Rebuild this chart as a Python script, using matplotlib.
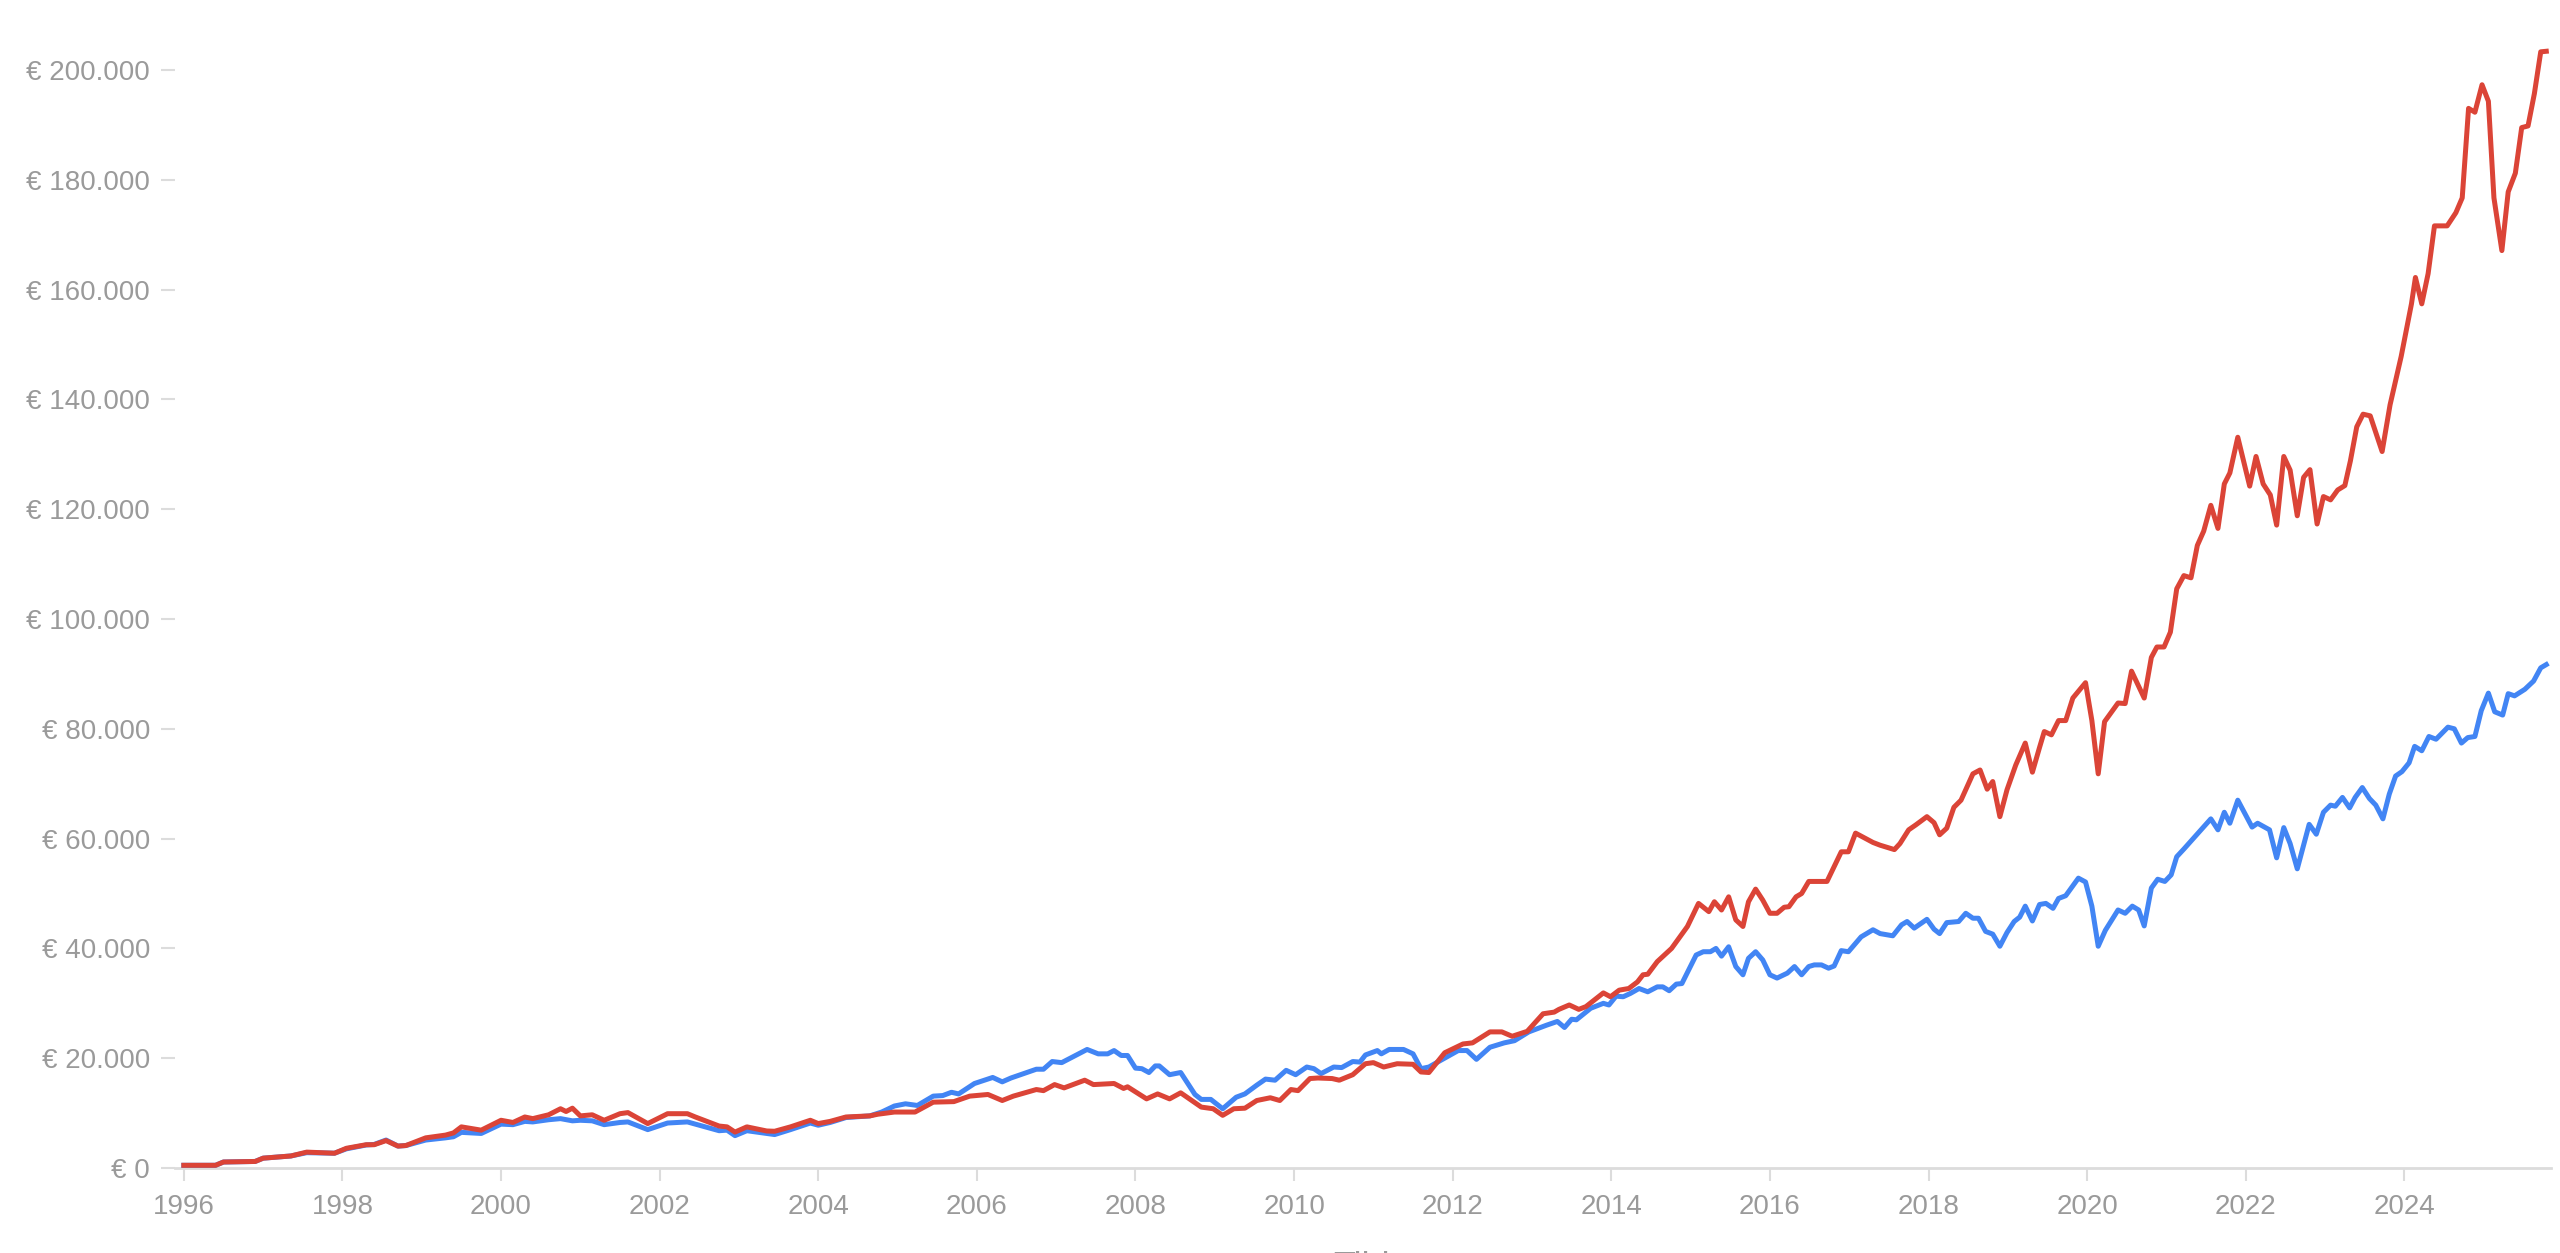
################################ REQUIRED PACKAGES ################################
import numpy as np
import matplotlib
matplotlib.use('Agg')
import matplotlib.pyplot as plt
from matplotlib.ticker import FuncFormatter, MultipleLocator


################################ DATA ################################
# red series (decimal year, value in euro)
red_years = [1996.0, 1996.4, 1996.5, 1996.9, 1997.0, 1997.35, 1997.55, 1997.9, 1998.05, 1998.3,
             1998.4, 1998.55, 1998.7, 1998.8, 1999.05, 1999.3, 1999.4, 1999.5, 1999.75, 2000.0,
             2000.15, 2000.3, 2000.4, 2000.6, 2000.75, 2000.82, 2000.9, 2001.0, 2001.15, 2001.3,
             2001.5, 2001.6, 2001.85, 2002.1, 2002.35, 2002.45, 2002.75, 2002.85, 2002.95, 2003.1,
             2003.35, 2003.45, 2003.65, 2003.9, 2004.0, 2004.15, 2004.35, 2004.65, 2004.75, 2004.96,
             2005.22, 2005.45, 2005.71, 2005.91, 2006.14, 2006.32, 2006.46, 2006.75, 2006.84, 2006.98,
             2007.1, 2007.36, 2007.47, 2007.73, 2007.85, 2007.9, 2008.14, 2008.28, 2008.43, 2008.57,
             2008.83, 2008.98, 2009.1, 2009.24, 2009.38, 2009.53, 2009.7, 2009.82, 2009.96, 2010.05,
             2010.2, 2010.3, 2010.48, 2010.57, 2010.74, 2010.9, 2011.0, 2011.13, 2011.3, 2011.5,
             2011.6, 2011.7, 2011.9, 2012.13, 2012.25, 2012.47, 2012.62, 2012.75, 2012.94, 2013.14,
             2013.28, 2013.34, 2013.47, 2013.59, 2013.68, 2013.9, 2013.99, 2014.1, 2014.22, 2014.33,
             2014.4, 2014.46, 2014.58, 2014.76, 2014.96, 2015.1, 2015.23, 2015.3, 2015.39, 2015.48,
             2015.57, 2015.66, 2015.73, 2015.82, 2015.91, 2016.0, 2016.09, 2016.18, 2016.24, 2016.33,
             2016.4, 2016.49, 2016.72, 2016.85, 2016.9, 2016.99, 2017.08, 2017.3, 2017.39, 2017.57,
             2017.64, 2017.75, 2017.84, 2017.98, 2018.07, 2018.14, 2018.23, 2018.32, 2018.41, 2018.56,
             2018.65, 2018.74, 2018.81, 2018.9, 2018.99, 2019.1, 2019.22, 2019.31, 2019.4, 2019.46,
             2019.55, 2019.64, 2019.73, 2019.82, 2019.98, 2020.06, 2020.14, 2020.22, 2020.39, 2020.48,
             2020.56, 2020.72, 2020.81, 2020.88, 2020.97, 2021.05, 2021.13, 2021.22, 2021.31, 2021.39,
             2021.47, 2021.56, 2021.65, 2021.73, 2021.8, 2021.9, 2022.05, 2022.13, 2022.22, 2022.31,
             2022.39, 2022.48, 2022.56, 2022.65, 2022.73, 2022.81, 2022.9, 2022.98, 2023.07, 2023.16,
             2023.25, 2023.32, 2023.4, 2023.48, 2023.57, 2023.72, 2023.82, 2023.96, 2024.09, 2024.14,
             2024.22, 2024.3, 2024.38, 2024.54, 2024.65, 2024.73, 2024.81, 2024.89, 2024.98, 2025.06,
             2025.13, 2025.23, 2025.31, 2025.4, 2025.48, 2025.56, 2025.64, 2025.72, 2025.79]
red_values = [500, 500, 1100, 1200, 1800, 2200, 2900, 2700, 3600, 4250,
              4250, 5000, 4000, 4100, 5500, 6000, 6400, 7500, 6900, 8700,
              8300, 9300, 9000, 9700, 10800, 10300, 10900, 9500, 9700, 8700,
              9900, 10100, 8100, 9900, 9900, 9300, 7650, 7500, 6550, 7500,
              6750, 6700, 7500, 8700, 8100, 8500, 9300, 9500, 9800, 10200,
              10200, 12000, 12100, 13100, 13400, 12300, 13100, 14300, 14100, 15200,
              14600, 16000, 15200, 15400, 14500, 14800, 12600, 13500, 12600, 13700,
              11100, 10800, 9600, 10800, 10900, 12300, 12800, 12300, 14300, 14100,
              16300, 16400, 16300, 16000, 17000, 19000, 19200, 18400, 19000, 18900,
              17500, 17400, 21000, 22600, 22800, 24800, 24800, 24000, 24900, 28100,
              28400, 28900, 29700, 28900, 29400, 31900, 31200, 32400, 32700, 33900,
              35200, 35300, 37600, 40000, 44000, 48200, 46700, 48500, 47000, 49400,
              45200, 44000, 48500, 50800, 48800, 46400, 46400, 47500, 47600, 49400,
              50000, 52200, 52200, 56100, 57600, 57600, 61000, 59300, 58800, 58000,
              59100, 61600, 62500, 64000, 62900, 60700, 61900, 65700, 67000, 71800,
              72500, 69000, 70400, 64000, 68900, 73400, 77400, 72100, 76600, 79500,
              78900, 81500, 81500, 85600, 88400, 81500, 71800, 81300, 84700, 84600,
              90500, 85600, 93000, 94900, 94900, 97600, 105500, 107900, 107500, 113400,
              116000, 120700, 116500, 124600, 126600, 133100, 124200, 129600, 124600, 122600,
              117100, 129600, 127100, 118800, 125800, 127200, 117300, 122300, 121700, 123500,
              124300, 128800, 135000, 137300, 137000, 130500, 139000, 147800, 157400, 162200,
              157400, 162900, 171600, 171600, 174000, 176700, 193000, 192300, 197300, 194300,
              176700, 167100, 177800, 181200, 189500, 189800, 195700, 203300, 203400]

# blue series (decimal year, value in euro)
blue_years = [1996.0, 1996.4, 1996.5, 1996.9, 1997.0, 1997.35, 1997.55, 1997.9, 1998.05, 1998.3,
              1998.4, 1998.55, 1998.7, 1998.8, 1999.05, 1999.3, 1999.4, 1999.5, 1999.75, 2000.0,
              2000.15, 2000.3, 2000.4, 2000.6, 2000.75, 2000.9, 2001.0, 2001.15, 2001.3, 2001.5,
              2001.6, 2001.85, 2002.1, 2002.35, 2002.45, 2002.75, 2002.85, 2002.95, 2003.1, 2003.35,
              2003.45, 2003.65, 2003.9, 2004.0, 2004.15, 2004.35, 2004.65, 2004.8, 2004.96, 2005.1,
              2005.25, 2005.45, 2005.57, 2005.68, 2005.77, 2005.97, 2006.2, 2006.32, 2006.43, 2006.75,
              2006.84, 2006.95, 2007.07, 2007.39, 2007.53, 2007.65, 2007.73, 2007.82, 2007.9, 2008.0,
              2008.08, 2008.17, 2008.25, 2008.3, 2008.43, 2008.57, 2008.75, 2008.83, 2008.95, 2009.1,
              2009.27, 2009.38, 2009.53, 2009.64, 2009.76, 2009.9, 2010.02, 2010.16, 2010.25, 2010.34,
              2010.5, 2010.6, 2010.74, 2010.83, 2010.9, 2011.05, 2011.1, 2011.2, 2011.38, 2011.5,
              2011.6, 2011.7, 2011.81, 2012.07, 2012.18, 2012.3, 2012.47, 2012.65, 2012.78, 2012.96,
              2013.18, 2013.32, 2013.41, 2013.5, 2013.56, 2013.74, 2013.9, 2013.97, 2014.06, 2014.15,
              2014.24, 2014.35, 2014.46, 2014.58, 2014.65, 2014.73, 2014.82, 2014.89, 2015.07, 2015.16,
              2015.25, 2015.32, 2015.39, 2015.48, 2015.57, 2015.66, 2015.73, 2015.82, 2015.91, 2016.0,
              2016.09, 2016.22, 2016.31, 2016.4, 2016.49, 2016.56, 2016.65, 2016.74, 2016.81, 2016.9,
              2016.99, 2017.15, 2017.3, 2017.39, 2017.55, 2017.66, 2017.73, 2017.82, 2017.98, 2018.07,
              2018.14, 2018.23, 2018.38, 2018.47, 2018.56, 2018.63, 2018.72, 2018.81, 2018.9, 2018.99,
              2019.08, 2019.15, 2019.22, 2019.31, 2019.4, 2019.48, 2019.57, 2019.64, 2019.73, 2019.89,
              2019.98, 2020.06, 2020.14, 2020.23, 2020.39, 2020.48, 2020.57, 2020.65, 2020.72, 2020.81,
              2020.89, 2020.98, 2021.06, 2021.13, 2021.22, 2021.4, 2021.56, 2021.65, 2021.73, 2021.8,
              2021.9, 2022.08, 2022.15, 2022.3, 2022.39, 2022.48, 2022.56, 2022.65, 2022.8, 2022.89,
              2022.98, 2023.07, 2023.13, 2023.22, 2023.31, 2023.38, 2023.47, 2023.56, 2023.64, 2023.73,
              2023.81, 2023.89, 2023.97, 2024.06, 2024.13, 2024.22, 2024.31, 2024.4, 2024.55, 2024.63,
              2024.72, 2024.8, 2024.89, 2024.97, 2025.06, 2025.14, 2025.24, 2025.31, 2025.39, 2025.52,
              2025.63, 2025.72, 2025.79]
blue_values = [500, 500, 1100, 1200, 1800, 2200, 2800, 2700, 3500, 4200,
               4300, 5100, 4000, 4100, 5100, 5500, 5700, 6500, 6300, 8000,
               7900, 8500, 8400, 8800, 9000, 8600, 8700, 8600, 7900, 8300,
               8400, 7000, 8200, 8400, 8000, 6800, 6900, 5900, 6800, 6300,
               6100, 7000, 8200, 7800, 8300, 9200, 9500, 10200, 11300, 11700,
               11400, 13100, 13200, 13800, 13500, 15400, 16500, 15700, 16400, 18000,
               18000, 19400, 19200, 21600, 20800, 20800, 21400, 20500, 20500, 18200,
               18100, 17400, 18600, 18600, 17000, 17400, 13400, 12500, 12500, 10800,
               12900, 13500, 15100, 16200, 16000, 17800, 17000, 18400, 18100, 17200,
               18400, 18300, 19400, 19300, 20600, 21400, 20800, 21600, 21600, 20800,
               18100, 18400, 19300, 21400, 21400, 19800, 22000, 22800, 23200, 24800,
               26000, 26700, 25600, 27100, 27000, 29100, 30000, 29700, 31300, 31200,
               31800, 32700, 32100, 33000, 33000, 32300, 33500, 33600, 38800, 39400,
               39400, 40000, 38600, 40300, 36700, 35200, 38200, 39400, 37900, 35200,
               34600, 35500, 36700, 35200, 36700, 37000, 37000, 36400, 36800, 39600,
               39400, 42100, 43400, 42700, 42300, 44300, 44900, 43700, 45300, 43500,
               42700, 44700, 44900, 46400, 45500, 45500, 43100, 42600, 40400, 42900,
               44900, 45700, 47700, 45000, 48000, 48200, 47300, 49100, 49600, 52800,
               52100, 47700, 40400, 43300, 47000, 46400, 47700, 47000, 44100, 51000,
               52600, 52200, 53400, 56700, 58100, 61000, 63600, 61600, 64800, 62800,
               67000, 62100, 62800, 61600, 56500, 62000, 59100, 54500, 62600, 60800,
               64800, 66100, 65900, 67500, 65600, 67500, 69300, 67300, 66100, 63600,
               68100, 71400, 72200, 73800, 76800, 76000, 78600, 78100, 80300, 80000,
               77400, 78400, 78600, 83300, 86500, 83100, 82500, 86400, 86000, 87200,
               88700, 91100, 91700]

y_ticks = [0, 20000, 40000, 60000, 80000, 100000, 120000, 140000, 160000, 180000, 200000]
x_tick_years = [1996, 1998, 2000, 2002, 2004, 2006, 2008, 2010, 2012, 2014, 2016, 2018, 2020, 2022, 2024]


################################ STYLE ################################
plt.rcParams['font.family'] = ['Liberation Sans', 'DejaVu Sans']
grey_text = '#9a9a9a'
grey_line = '#dcdcdc'

def euro(v, pos=None):
    # dutch style: dot as thousands separator
    return '€ ' + f'{int(round(v)):,}'.replace(',', '.')


################################ PLOT ################################
fig = plt.figure(figsize=(25.6, 12.53), dpi=100)
ax = fig.add_axes([0.0684, 0.0678, 0.9281, 0.9202])

ax.plot(blue_years, blue_values, color='#4285F4', lw=3.6, solid_joinstyle='round', zorder=3)
ax.plot(red_years, red_values, color='#DB4437', lw=3.6, solid_joinstyle='round', zorder=4)

ax.set_xlim(1995.89, 2025.85)
ax.set_ylim(0, 210000)

ax.set_yticks(y_ticks)
ax.yaxis.set_major_formatter(FuncFormatter(euro))
ax.set_xticks(x_tick_years)
ax.set_xticklabels([str(y) for y in x_tick_years])

# axes decoration
for side in ['top', 'right', 'left']:
    ax.spines[side].set_visible(False)
ax.spines['bottom'].set_color(grey_line)
ax.spines['bottom'].set_linewidth(2)
ax.tick_params(axis='x', colors=grey_line, labelcolor=grey_text, labelsize=20,
               length=9.5, width=1.5, pad=9)
ax.tick_params(axis='y', colors=grey_line, labelcolor=grey_text, labelsize=20,
               length=10, width=1.5, pad=8)

# axis title, mostly cut off by the bottom edge
fig.text(0.532, -0.012, 'Tijd', ha='center', va='center', fontsize=26, color=grey_text)

fig.savefig('out.png', dpi=100)
